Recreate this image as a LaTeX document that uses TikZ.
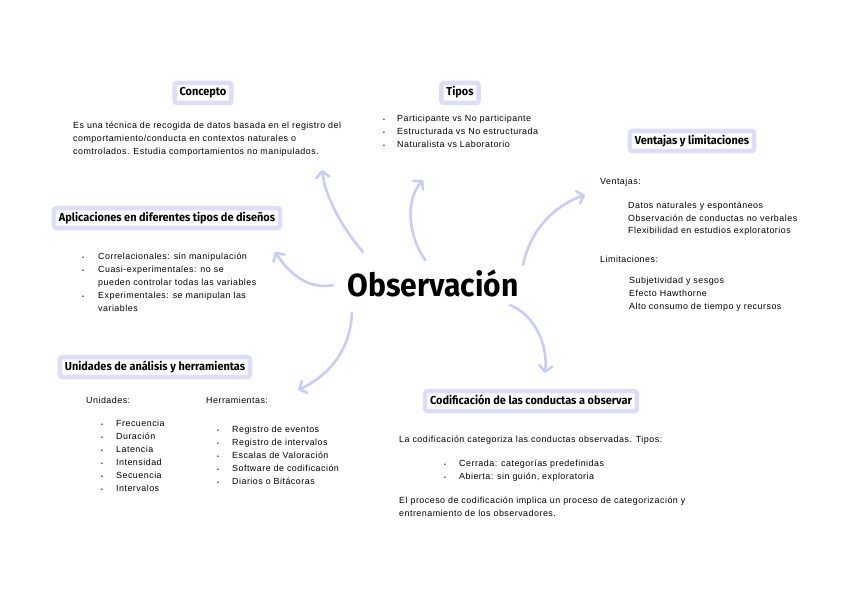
\documentclass[tikz,border=0pt]{standalone}
\usepackage{fontspec}
\setmainfont{Liberation Sans}[LetterSpace=5.5]
\newfontfamily\headfont{Fira Sans}
\usetikzlibrary{arrows.meta}
\definecolor{boxlav}{RGB}{220,221,251}
\definecolor{arrowlav}{RGB}{200,205,248}
\newcommand{\bul}{\scalebox{0.6}{\textbullet}}
\newcommand{\hd}[1]{\scalebox{0.95}[1]{#1}}
\begin{document}
\begin{tikzpicture}[x=1pt,y=-1pt,
  titlebox/.style={draw=boxlav, fill=white, line width=4.5pt, rounded corners=2.5pt,
    inner xsep=5pt, inner ysep=4.5pt, text height=8.5pt, text depth=2.5pt,
    font=\headfont\bfseries\fontsize{11.5}{13}\selectfont},
  body/.style={anchor=north west, inner sep=0pt, align=left,
    font=\fontsize{8.9}{13}\selectfont, execute at begin node={\rule{0pt}{9pt}}},
  listbox/.style={anchor=north west, inner sep=0pt,
    font=\fontsize{8.9}{13}\selectfont},
  link/.style={draw=arrowlav, line width=2.6pt, line cap=round, line join=round,
    -{Straight Barb[length=6pt,width=13pt,round]}}
]
\useasboundingbox (0,0) rectangle (848,599);

% centre
\node[font=\headfont\bfseries\fontsize{32}{36}\selectfont] (obs) at (433,283)
  {\scalebox{0.94}[1]{Observación}};

% titles
\node[titlebox] (concepto) at (203,93) {\hd{Concepto}};
\node[titlebox] (tipos) at (460,93) {\hd{Tipos}};
\node[titlebox] (ventajas) at (692,141) {\hd{Ventajas y limitaciones}};
\node[titlebox] (aplic) at (167,218) {\hd{Aplicaciones en diferentes tipos de diseños}};
\node[titlebox] (unid) at (155,367) {\hd{Unidades de análisis y herramientas}};
\node[titlebox] (codif) at (531,401) {\hd{Codificación de las conductas a observar}};

% bodies
\node[body] (conceptotxt) at (73,122) {Es una técnica de recogida de datos basada en el registro del\\
comportamiento/conducta en contextos naturales o\\
comtrolados. Estudia comportamientos no manipulados.};

\node[listbox] (tipostxt) at (383,112) {\begin{tabular}{@{}p{14pt}@{}l@{}}
\bul & Participante vs No participante\\
\bul & Estructurada vs No estructurada\\
\bul & Naturalista vs Laboratorio
\end{tabular}};

\node[body] (ventlbl) at (600,175) {Ventajas:};
\node[body] (venttxt) at (628,202) {Datos naturales y espontáneos\\[-0.5pt]
Observación de conductas no verbales\\[-0.5pt]
Flexibilidad en estudios exploratorios};
\node[body] (limlbl) at (600,253) {Limitaciones:};
\node[body] (limtxt) at (629,277) {Subjetividad y sesgos\\
Efecto Hawthorne\\
Alto consumo de tiempo y recursos};

\node[listbox] (aplictxt) at (82,250) {\begin{tabular}{@{}p{16pt}@{}l@{}}
\bul & Correlacionales: sin manipulación\\
\bul & Cuasi-experimentales: no se\\
 & pueden controlar todas las variables\\
\bul & Experimentales: se manipulan las\\
 & variables
\end{tabular}};

\node[body] (unidlbl) at (86,394) {Unidades:};
\node[listbox] (unidtxt) at (101,417) {\begin{tabular}{@{}p{15pt}@{}l@{}}
\bul & Frecuencia\\
\bul & Duración\\
\bul & Latencia\\
\bul & Intensidad\\
\bul & Secuencia\\
\bul & Intervalos
\end{tabular}};

\node[body] (herrlbl) at (206,394) {Herramientas:};
\node[listbox] (herrtxt) at (217,423) {\begin{tabular}{@{}p{15pt}@{}l@{}}
\bul & Registro de eventos\\
\bul & Registro de intervalos\\
\bul & Escalas de Valoración\\
\bul & Software de codificación\\
\bul & Diarios o Bitácoras
\end{tabular}};

\node[body] (codiftxt) at (399,433) {La codificación categoriza las conductas observadas. Tipos:};
\node[listbox] (codiflist) at (444,457) {\begin{tabular}{@{}p{15pt}@{}l@{}}
\bul & Cerrada: categorías predefinidas\\
\bul & Abierta: sin guión, exploratoria
\end{tabular}};
\node[body] (codiftxt2) at (399,497) {El proceso de codificación implica un proceso de categorización y\\
entrenamiento de los observadores.};

% connectors
\coordinate (s1) at (363,252); \coordinate (e1) at (322,170);
\coordinate (s2) at (425,260); \coordinate (e2) at (423,180);
\coordinate (s3) at (523,265); \coordinate (e3) at (585,195);
\coordinate (s4) at (333,285); \coordinate (e4) at (275,252);
\coordinate (s5) at (352,313); \coordinate (e5) at (298,390);
\coordinate (s6) at (510,305); \coordinate (e6) at (545,373);
\draw[link] (s1) .. controls (340,225) and (325,195) .. (e1);
\draw[link] (s2) .. controls (408,235) and (405,200) .. (e2);
\draw[link] (s3) .. controls (530,230) and (555,205) .. (e3);
\draw[link] (s4) .. controls (310,290) and (290,275) .. (e4);
\draw[link] (s5) .. controls (350,350) and (330,375) .. (e5);
\draw[link] (s6) .. controls (535,315) and (548,345) .. (e6);
\end{tikzpicture}
\end{document}
